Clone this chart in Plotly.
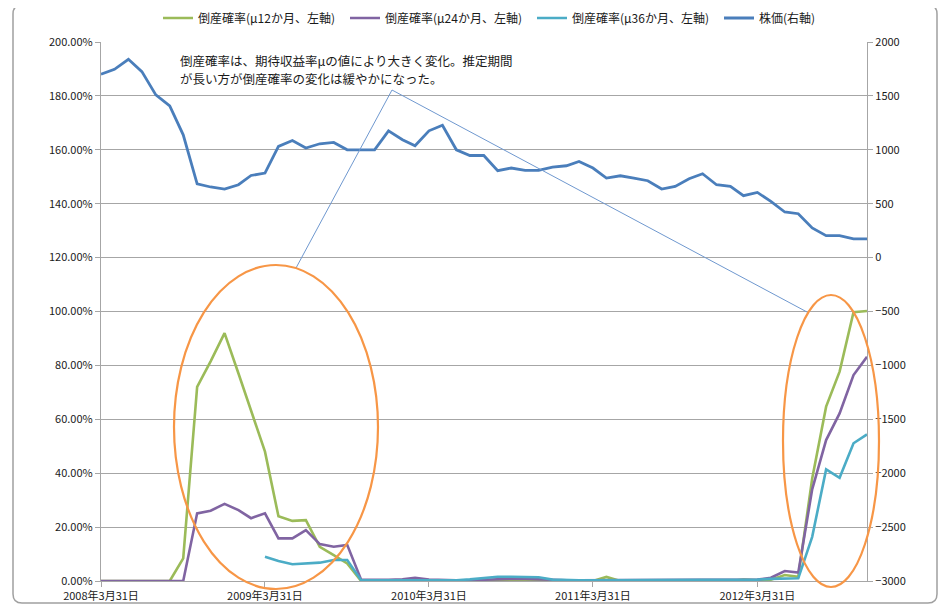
import pandas as pd
import plotly.graph_objects as go

# ---------------- data ----------------
dates = pd.date_range("2008-03-31", periods=57, freq=pd.offsets.MonthEnd())

p12 = [0, 0, 0, 0, 0, 0, 8.4, 72.0, 81.5, 92.0, 77.0, 63.0, 48.0, 24.0, 22.3, 22.6, 12.7, 9.6, 6.5, 0,
       0, 0, 0, 0, 0, 0, 0, 0, 0, 0, 0, 0, 0, 0, 0, 0, 0, 1.5, 0, 0,
       0, 0, 0, 0, 0, 0, 0, 0.5, 0.3, 0.5, 2.2, 1.6, 38.0, 64.7, 77.7, 99.7, 100.2]
p24 = [0, 0, 0, 0, 0, 0, 0, 25.1, 26.1, 28.6, 26.3, 23.3, 25.1, 15.8, 15.8, 18.9, 13.7, 12.7, 13.4, 0.5,
       0.4, 0.4, 0.6, 1.2, 0.5, 0.3, 0.3, 0.3, 0.5, 0.8, 0.8, 0.8, 0.6, 0.3, 0.3, 0.3, 0.3, 0.3, 0.3, 0.3,
       0.3, 0.3, 0.3, 0.3, 0.3, 0.3, 0.4, 0.5, 0.5, 1.2, 3.7, 3.1, 34.0, 52.3, 62.2, 76.4, 83.2]
p36 = [None] * 12 + [9.0, 7.4, 6.2, 6.6, 6.8, 7.8, 7.8, 0.3,
       0.3, 0.3, 0.3, 0.4, 0.3, 0.3, 0.3, 0.6, 1.2, 1.6, 1.6, 1.6, 1.4, 0.5, 0.3, 0.3, 0.3, 0.3, 0.3, 0.3,
       0.3, 0.3, 0.3, 0.3, 0.3, 0.3, 0.3, 0.3, 0.5, 0.8, 1.0, 1.0, 16.4, 41.4, 38.3, 51.1, 54.4]
stock = [1701, 1747, 1840, 1725, 1509, 1407, 1139, 685, 655, 636, 676, 762, 784, 1031, 1086, 1016, 1056, 1068, 1000, 1000,
         1000, 1176, 1093, 1037, 1176, 1228, 1000, 947, 947, 806, 831, 809, 809, 840, 852, 892, 831, 738, 759, 738,
         713, 636, 660, 731, 778, 676, 660, 574, 605, 521, 423, 407, 275, 204, 204, 173, 173]

names = ["倒産確率(μ12か月、左軸)", "倒産確率(μ24か月、左軸)", "倒産確率(μ36か月、左軸)", "株価(右軸)"]
colors = ["#9bbb59", "#8064a2", "#4bacc6", "#4a7ebb"]

tick_dates = ["2008-03-31", "2009-03-31", "2010-03-31", "2011-03-31", "2012-03-31"]
tick_text = ["2008年3月31日", "2009年3月31日", "2010年3月31日", "2011年3月31日", "2012年3月31日"]

note_lines = ["倒産確率は、期待収益率μの値により大きく変化。推定期間",
              "が長い方が倒産確率の変化は緩やかになった。"]

# ---------------- layout geometry (pixels, page offset of 8px compensated) ----------------
O = 8
W, H = 946 - O, 611 - O
L, T = 101 - O, 42 - O
R = W - (867 - O)
B = H - (581 - O)
PW, PH = W - L - R, H - T - B


def px(x):
    return (x - O - L) / PW


def py(y):
    return (H - B - (y - O)) / PH


FONT = "Noto Sans CJK JP, Noto Sans, sans-serif"

fig = go.Figure()


def pct(v):
    return [None if a is None else a / 100.0 for a in v]


for vals, nm, c in zip([p12, p24, p36], names[:3], colors[:3]):
    fig.add_trace(go.Scatter(x=dates, y=pct(vals), name=nm, mode="lines",
                             line=dict(color=c, width=2.6), yaxis="y"))
fig.add_trace(go.Scatter(x=dates, y=stock, name=names[3], mode="lines",
                         line=dict(color=colors[3], width=2.8), yaxis="y2"))

grid = "#a6a6a6"
fig.update_layout(
    width=W, height=H,
    margin=dict(l=L, r=R, t=T, b=B, autoexpand=False),
    paper_bgcolor="white", plot_bgcolor="white",
    font=dict(family=FONT, size=11, color="#1a1a1a"),
    showlegend=True,
    legend=dict(orientation="h", x=px(158), xanchor="left", y=py(18), yanchor="middle",
                font=dict(size=12, color="#1a1a1a"), entrywidth=142, entrywidthmode="pixels",
                itemwidth=30, bgcolor="rgba(0,0,0,0)", tracegroupgap=0),
    xaxis=dict(type="date", range=[dates[0], dates[-1]], tickvals=tick_dates, ticktext=tick_text,
               showgrid=False, showline=True, linecolor=grid, linewidth=1.2,
               ticks="outside", ticklen=5, tickcolor=grid, zeroline=False,
               tickfont=dict(size=11)),
    yaxis=dict(range=[0, 2], dtick=0.2, tickformat=".2%", showgrid=True, gridcolor=grid, gridwidth=1.2,
               showline=True, linecolor=grid, linewidth=1.2, ticks="outside", ticklen=5, tickcolor=grid,
               zeroline=False, tickfont=dict(size=11)),
    yaxis2=dict(range=[-3000, 2000], dtick=500, overlaying="y", side="right", showgrid=False,
                showline=True, linecolor=grid, linewidth=1.2, ticks="outside", ticklen=5, tickcolor=grid,
                zeroline=False, tickfont=dict(size=11)),
)

# chart frame (rounded rectangle)
x0, x1, y0, y1, r = 13, 937, 5, 603, 9
path = (f"M {px(x0 + r)},{py(y0)} L {px(x1 - r)},{py(y0)} Q {px(x1)},{py(y0)} {px(x1)},{py(y0 + r)} "
        f"L {px(x1)},{py(y1 - r)} Q {px(x1)},{py(y1)} {px(x1 - r)},{py(y1)} "
        f"L {px(x0 + r)},{py(y1)} Q {px(x0)},{py(y1)} {px(x0)},{py(y1 - r)} "
        f"L {px(x0)},{py(y0 + r)} Q {px(x0)},{py(y0)} {px(x0 + r)},{py(y0)} Z")
fig.add_shape(type="path", path=path, xref="paper", yref="paper",
              line=dict(color="#a0a0a0", width=1.5), layer="below")

# callout lines
apex = (392, 90)
for end in [(296, 268), (807, 312)]:
    fig.add_shape(type="line", xref="paper", yref="paper",
                  x0=px(apex[0]), y0=py(apex[1]), x1=px(end[0]), y1=py(end[1]),
                  line=dict(color="#6f98cf", width=1))

# orange ellipses
for (ex0, ex1, ey0, ey1) in [(174, 378, 265, 589), (783, 879, 295, 587)]:
    fig.add_shape(type="circle", xref="paper", yref="paper",
                  x0=px(ex0), x1=px(ex1), y0=py(ey1), y1=py(ey0),
                  line=dict(color="#f79646", width=2.2))

for txt, yc in zip(note_lines, [60, 78]):
    fig.add_annotation(text=txt, xref="paper", yref="paper", x=px(178), y=py(yc),
                       xanchor="left", yanchor="middle", align="left", showarrow=False,
                       font=dict(size=12.5, color="#1a1a1a", family=FONT))

fig.write_html("out.html")
